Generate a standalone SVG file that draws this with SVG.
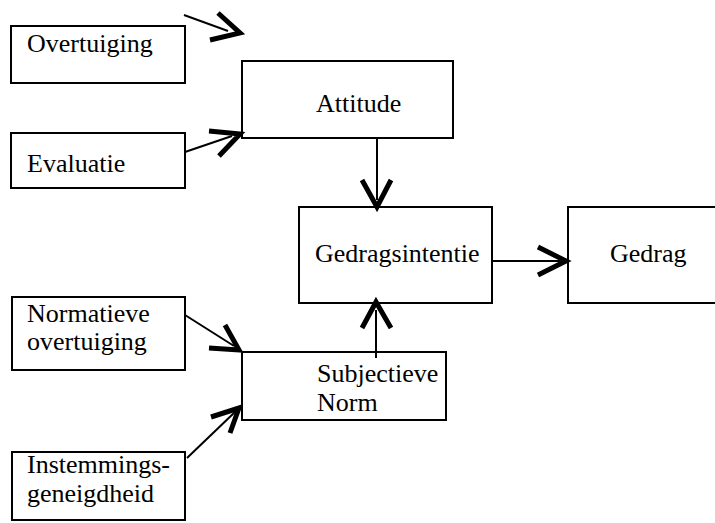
<svg xmlns="http://www.w3.org/2000/svg" width="715" height="523" viewBox="0 0 715 523">
<style>
.box{fill:#fff;stroke:#000;stroke-width:2}
.t{font-family:"Liberation Serif","Times New Roman",serif;font-size:26px;fill:#000}
.ln{stroke:#000;stroke-width:2;fill:none}
.hd{stroke:#000;stroke-width:5;fill:none;stroke-linejoin:miter;stroke-miterlimit:10}
</style>
<rect width="715" height="523" fill="#fff"/>
<g id="n-overtuiging"><rect class="box" x="11" y="26" width="174" height="57"/><text class="t" x="27" y="52">Overtuiging</text></g>
<g id="n-evaluatie"><rect class="box" x="11" y="133" width="174" height="55"/><text class="t" x="27" y="172">Evaluatie</text></g>
<g id="n-attitude"><rect class="box" x="242" y="61" width="211" height="77"/><text class="t" x="316" y="112">Attitude</text></g>
<g id="n-gedragsintentie"><rect class="box" x="299" y="207" width="193" height="96"/><text class="t" x="315" y="262">Gedragsintentie</text></g>
<g id="n-gedrag"><rect class="box" x="568" y="207" width="180" height="96"/><text class="t" x="610" y="262">Gedrag</text></g>
<g id="n-normatieve"><rect class="box" x="12" y="297" width="173" height="73"/><text class="t" x="27" y="322">Normatieve</text><text class="t" x="27" y="350">overtuiging</text></g>
<g id="n-instemmings"><rect class="box" x="12" y="452" width="173" height="68"/><text class="t" x="27" y="473">Instemmings-</text><text class="t" x="27" y="502">geneigdheid</text></g>
<g id="n-subjectieve"><rect class="box" x="242" y="352" width="204" height="68"/><text class="t" x="317" y="382">Subjectieve</text><text class="t" x="317" y="411">Norm</text></g>
<g id="connectors">
<line class="ln" x1="184" y1="15" x2="228" y2="31"/>
<polyline class="hd" points="218,13 240,33 210,40"/>
<line class="ln" x1="185" y1="152" x2="232" y2="136"/>
<polyline class="hd" points="209,131 240,134 219,156"/>
<line class="ln" x1="377" y1="138" x2="377" y2="200"/>
<polyline class="hd" points="362,180 377,207 391,180"/>
<line class="ln" x1="492" y1="261" x2="560" y2="261"/>
<polyline class="hd" points="538,247 566,261 538,275"/>
<line class="ln" x1="376" y1="358" x2="376" y2="310"/>
<polyline class="hd" points="362,328 376,302 391,328"/>
<line class="ln" x1="185" y1="315" x2="234" y2="346"/>
<polyline class="hd" points="225,325 239,350 209,348"/>
<line class="ln" x1="187" y1="458" x2="235" y2="412"/>
<polyline class="hd" points="211,417 239,408 230,433"/>
</g>
</svg>
